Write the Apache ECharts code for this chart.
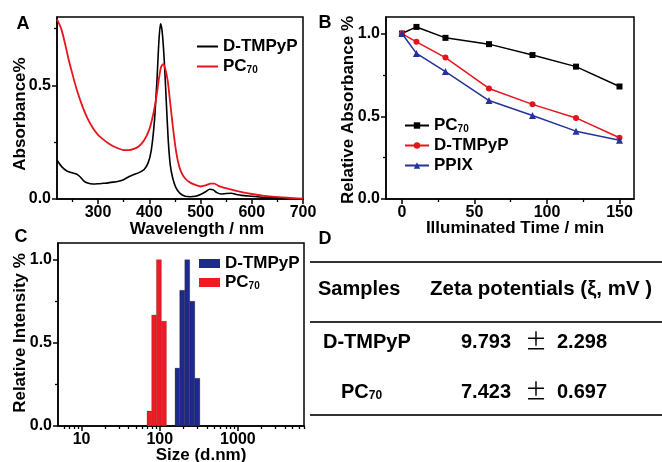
<!DOCTYPE html>
<html><head><meta charset="utf-8">
<script src="https://cdn.jsdelivr.net/npm/echarts@6/dist/echarts.min.js"></script>
<style>html,body{margin:0;padding:0;background:#fff}#c{width:662px;height:462px}</style>
</head><body><div id="c"></div>
<script>
const FONT = '"Liberation Sans", Arial, Helvetica, sans-serif';

// ---- Panel A: UV-vis spectra ----
const wlDTMPyP  = [220,230,240,250,258,265,272,280,290,300,310,320,330,340,350,360,370,380,390,398,404,410,415,419,422,425,429,433,437,441,446,452,460,470,480,490,500,510,518,525,532,540,550,560,570,580,600,620,640,660,680,700];
const absDTMPyP = [0.170,0.140,0.122,0.115,0.110,0.098,0.080,0.070,0.066,0.067,0.069,0.071,0.074,0.078,0.085,0.098,0.108,0.116,0.130,0.160,0.215,0.340,0.520,0.700,0.770,0.740,0.620,0.440,0.260,0.150,0.090,0.050,0.025,0.012,0.010,0.012,0.020,0.032,0.043,0.040,0.028,0.022,0.024,0.025,0.020,0.016,0.012,0.008,0.006,0.004,0.002,0.000];
const wlPC70  = [220,228,235,242,250,260,270,280,290,300,310,320,330,340,350,360,370,380,390,400,408,414,419,423,427,431,436,441,446,451,456,462,470,480,490,500,510,520,527,535,545,555,570,585,600,620,640,660,680,700];
const absPC70 = [0.790,0.750,0.690,0.620,0.550,0.470,0.405,0.352,0.312,0.282,0.262,0.245,0.232,0.222,0.215,0.215,0.220,0.232,0.258,0.305,0.375,0.450,0.530,0.580,0.593,0.575,0.520,0.420,0.320,0.230,0.165,0.120,0.090,0.072,0.062,0.055,0.060,0.068,0.068,0.058,0.050,0.044,0.036,0.028,0.022,0.015,0.010,0.007,0.004,0.001];
const aXMajor = [300,400,500,600,700], aXMinor = [250,350,450,550,650];
const aYMajor = [0,0.5], aYMinor = [0.25,0.75];

// ---- Panel B: photostability ----
const timeMin   = [0,10,30,60,90,120,150];
const relPC70   = [1.0,1.04,0.974,0.936,0.87,0.80,0.68];
const relDTMPyP = [1.0,0.95,0.855,0.668,0.572,0.49,0.37];
const relPPIX   = [1.0,0.88,0.77,0.595,0.505,0.41,0.355];
const bXMajor = [0,50,100,150], bXMinor = [25,75,125];
const bYMajor = [0,0.5,1.0], bYMinor = [0.25,0.75];

// ---- Panel C: DLS size distribution ----
const edgesPC70 = [68.8,78.9,90.7,105,121.8];
const intPC70   = [0.09,0.667,1.0,0.63];
const edgesDT   = [157,180,209,242,281,326];
const intDT     = [0.348,0.816,1.0,0.75,0.287];
const cXMajor = [10,100,1000];
const cXMinor = [6,7,8,9,20,30,40,50,60,70,80,90,200,300,400,500,600,700,800,900,2000,3000,4000,5000,6000,7000];
const cYMajor = [0,0.5,1.0], cYMinor = [0.25,0.75];

// ---- Panel D: zeta potentials table ----
const tblSamples = ['D-TMPyP','PC{sub|70}'];
const tblMean = ['9.793','7.423'];
const tblSD   = ['2.298','0.697'];

const RED = '#e8141c', BLUE = '#24329a', BLACK = '#000';
const lblStyle = {fontFamily: FONT, fontWeight: 'bold', fontSize: 16, color: '#000'};
const richSub = {sub: {fontFamily: FONT, fontWeight: 'bold', fontSize: 10, color: '#000', verticalAlign: 'bottom', padding: [6,0,0,0]}};

function axes(grid, dir, min, max, majors, minors, fmt, margin, isLog) {
  const pos = dir === 'x' ? 'bottom' : 'left';
  const base = {gridIndex: grid, type: isLog ? 'log' : 'value', min: min, max: max, position: pos, splitLine: {show: false}};
  if (isLog) base.logBase = 10;
  const major = Object.assign({}, base, {
    axisLine: {show: true, onZero: false, lineStyle: {color: '#000', width: 1.5}},
    axisTick: {show: true, inside: false, length: 5, lineStyle: {color: '#000', width: 1.5}, customValues: majors},
    axisLabel: Object.assign({show: true, margin: margin, customValues: majors, formatter: fmt}, lblStyle)
  });
  const minor = Object.assign({}, base, {
    axisLine: {show: false, onZero: false},
    axisTick: {show: true, inside: false, length: 3, lineStyle: {color: '#000', width: 1.3}, customValues: minors},
    axisLabel: {show: false}
  });
  return [major, minor];
}
const f1 = v => Number(v).toFixed(1);
const f0 = v => String(Math.round(v));

const xAxes = [].concat(
  axes(0, 'x', 220, 700, aXMajor, aXMinor, f0, 6),
  axes(1, 'x', -11, 160, bXMajor, bXMinor, f0, 6),
  axes(2, 'x', 5, 7000, cXMajor, cXMinor, f0, 6, true)
);
const yAxes = [].concat(
  axes(0, 'y', 0, 0.8, aYMajor, aYMinor, f1, 6),
  axes(1, 'y', 0, 1.1, bYMajor, bYMinor, f1, 6),
  axes(2, 'y', 0, 1.1, cYMajor, cYMinor, f1, 6)
);

const zip = (a, b) => a.map((v, i) => [v, b[i]]);
const bars = (edges, vals) => vals.map((v, i) => [edges[i], edges[i+1], v]);

function renderBar(params, api) {
  const p0 = api.coord([api.value(0), api.value(2)]);
  const p1 = api.coord([api.value(1), 0]);
  return {type: 'rect', shape: {x: p0[0], y: p0[1], width: p1[0] - p0[0], height: p1[1] - p0[1]},
    style: {fill: api.visual('color'), stroke: 'rgba(60,0,0,0.35)', lineWidth: 0.6}};
}

const nameFmt = n => n.replace(/^[ABC]: /, '').replace('PC70', 'PC{sub|70}');
const legText = Object.assign({}, lblStyle, {fontSize: 17, rich: richSub});

function T(x, y, text, size, opts) {
  opts = opts || {};
  const el = {type: 'text', x: x, y: y,
    style: Object.assign({text: text, fontFamily: FONT, fontWeight: 'bold', fontSize: size, fill: '#000', align: 'center', verticalAlign: 'middle'}, opts.style || {})};
  if (opts.rotation) el.rotation = opts.rotation;
  return el;
}
const HL = y => ({type: 'line', shape: {x1: 310, y1: y, x2: 662, y2: y}, style: {stroke: '#333', lineWidth: 2}});

const graphics = [
  T(23, 24, 'A', 18), T(325, 23, 'B', 18), T(21, 237, 'C', 18), T(325, 239, 'D', 18),
  T(197, 229, 'Wavelength / nm', 17),
  T(20, 114, 'Absorbance%', 17, {rotation: Math.PI/2}),
  T(515, 228, 'Illuminated Time / min', 17),
  T(348, 110, 'Relative Absorbance %', 17, {rotation: Math.PI/2}),
  T(201, 455, 'Size (d.nm)', 17),
  T(20, 333, 'Relative Intensity %', 17, {rotation: Math.PI/2}),
  HL(262), HL(322), HL(415),
  T(318, 289, 'Samples', 20, {style: {align: 'left'}}),
  T(430, 289, 'Zeta potentials (ξ, mV )', 20.5, {style: {align: 'left'}})
];
const rowY = [342, 392], rowX = [323, 341];
tblSamples.forEach((s, i) => {
  graphics.push(T(rowX[i], rowY[i], s, 20, {style: {align: 'left', rich: {sub: {fontFamily: FONT, fontWeight: 'bold', fontSize: 12, verticalAlign: 'bottom', padding: [7,0,0,0]}}}}));
  graphics.push(T(461, rowY[i], tblMean[i], 20, {style: {align: 'left'}}));
  graphics.push(T(536, rowY[i] - 1, '±', 22, {style: {fontWeight: 'normal', fontFamily: '"Noto Sans CJK SC", ' + FONT}}));
  graphics.push(T(557, rowY[i], tblSD[i], 20, {style: {align: 'left'}}));
});

const option = {
  backgroundColor: '#fff',
  animation: false,
  grid: [
    {left: 57, top: 17, width: 246, height: 182, show: true, borderColor: '#000', borderWidth: 1.5, backgroundColor: 'transparent'},
    {left: 386, top: 17, width: 248, height: 182, show: true, borderColor: '#000', borderWidth: 1.5, backgroundColor: 'transparent'},
    {left: 58, top: 243, width: 246, height: 183, show: true, borderColor: '#000', borderWidth: 1.5, backgroundColor: 'transparent'}
  ],
  xAxis: xAxes,
  yAxis: yAxes,
  legend: [
    {data: ['A: D-TMPyP', 'A: PC70'], orient: 'vertical', left: 197, top: 38, padding: 0, itemWidth: 21, itemHeight: 2, itemGap: 3, icon: 'rect',
     formatter: nameFmt, textStyle: legText},
    {data: ['B: PC70', 'B: D-TMPyP', 'B: PPIX'], orient: 'vertical', left: 404, top: 117, padding: 0, itemWidth: 24, itemHeight: 8, itemGap: 3,
     formatter: nameFmt, textStyle: legText},
    {data: ['C: D-TMPyP', 'C: PC70'], orient: 'vertical', left: 199, top: 255, padding: 0, itemWidth: 21, itemHeight: 9, itemGap: 2, icon: 'rect',
     formatter: nameFmt, textStyle: legText}
  ],
  series: [
    {name: 'A: D-TMPyP', type: 'line', xAxisIndex: 0, yAxisIndex: 0, data: zip(wlDTMPyP, absDTMPyP), smooth: 0.25, symbol: 'none',
     lineStyle: {color: BLACK, width: 1.6}, itemStyle: {color: BLACK}},
    {name: 'A: PC70', type: 'line', xAxisIndex: 0, yAxisIndex: 0, data: zip(wlPC70, absPC70), smooth: 0.25, symbol: 'none',
     lineStyle: {color: RED, width: 1.8}, itemStyle: {color: RED}},
    {name: 'B: PC70', type: 'line', xAxisIndex: 2, yAxisIndex: 2, data: zip(timeMin, relPC70), symbol: 'rect', symbolSize: 6,
     lineStyle: {color: BLACK, width: 1.5}, itemStyle: {color: BLACK}},
    {name: 'B: D-TMPyP', type: 'line', xAxisIndex: 2, yAxisIndex: 2, data: zip(timeMin, relDTMPyP), symbol: 'circle', symbolSize: 6,
     lineStyle: {color: RED, width: 1.5}, itemStyle: {color: RED}},
    {name: 'B: PPIX', type: 'line', xAxisIndex: 2, yAxisIndex: 2, data: zip(timeMin, relPPIX), symbol: 'triangle', symbolSize: 7,
     lineStyle: {color: BLUE, width: 1.5}, itemStyle: {color: BLUE}},
    {name: 'C: D-TMPyP', type: 'custom', xAxisIndex: 4, yAxisIndex: 4, data: bars(edgesDT, intDT), encode: {x: [0, 1], y: 2},
     renderItem: renderBar, itemStyle: {color: '#1c2a8c'}},
    {name: 'C: PC70', type: 'custom', xAxisIndex: 4, yAxisIndex: 4, data: bars(edgesPC70, intPC70), encode: {x: [0, 1], y: 2},
     renderItem: renderBar, itemStyle: {color: '#ee1a24'}}
  ],
  graphic: graphics
};
const chart = echarts.init(document.getElementById('c'), null, {renderer: 'canvas'});
chart.setOption(option);
</script></body></html>
